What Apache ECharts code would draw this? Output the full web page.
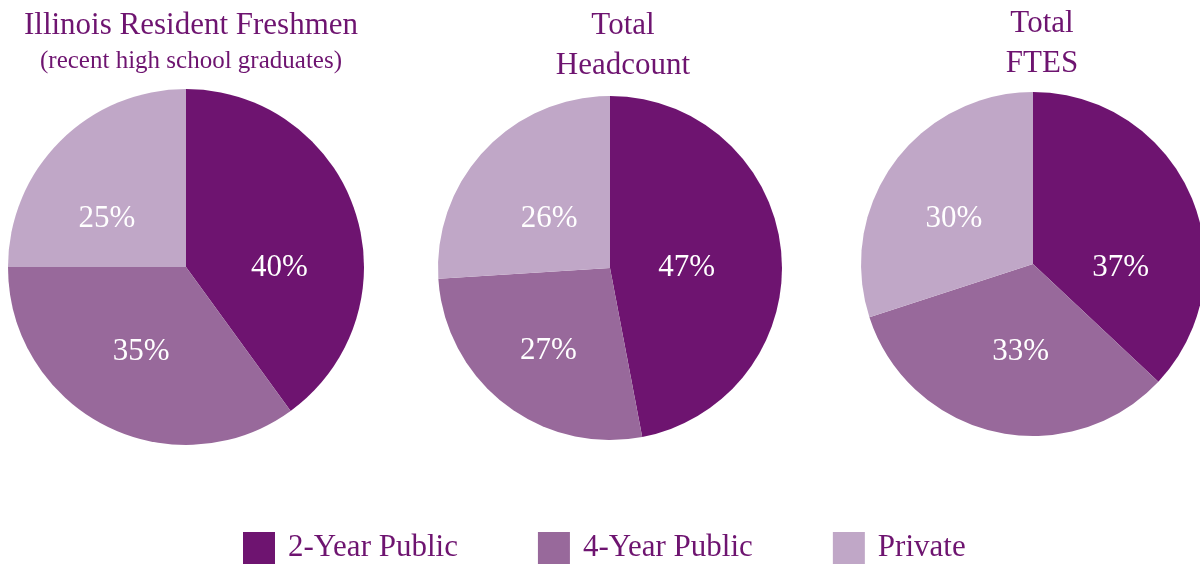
<!DOCTYPE html>
<html>
<head>
<meta charset="UTF-8">
<title>Enrollment by sector</title>
<script src="https://cdn.jsdelivr.net/npm/echarts@6/dist/echarts.min.js"></script>
<style>
  html, body { margin: 0; padding: 0; background: #fff; }
  #main { width: 1200px; height: 564px; }
</style>
</head>
<body>
<div id="main"></div>
<script type="text/javascript">
// sectors and shares (percent)
var sectors = ['2-Year Public', '4-Year Public', 'Private'];
var freshmen = [40, 35, 25];
var headcount = [47, 27, 26];
var ftes = [37, 33, 30];

var colors = ['#6e1470', '#98699b', '#c0a7c7'];
var font = '"Liberation Serif", "DejaVu Serif", serif';

var myChart = echarts.init(document.getElementById('main'));

// small nudges so the labels sit where the original put them
function toData(values, nudges) {
  var out = [];
  for (var i = 0; i < values.length; i++) {
    out.push({ name: sectors[i], value: values[i], label: { offset: nudges[i] } });
  }
  return out;
}

function pieSeries(values, center, radius, nudges) {
  return {
    type: 'pie',
    center: center,
    radius: radius,
    startAngle: 90,
    clockwise: true,
    silent: true,
    label: {
      show: true,
      position: 'inside',
      formatter: '{c}%',
      color: '#fff',
      fontFamily: font,
      fontSize: 31
    },
    labelLine: { show: false },
    itemStyle: { borderWidth: 0 },
    data: toData(values, nudges)
  };
}

var titleStyle = { color: '#6e1470', fontFamily: font, fontSize: 31, fontWeight: 'normal', lineHeight: 40 };

var option = {
  color: colors,
  animation: false,
  title: [
    {
      text: 'Illinois Resident Freshmen',
      subtext: '(recent high school graduates)',
      left: 186, top: 1, textAlign: 'center', itemGap: 3,
      textStyle: titleStyle,
      subtextStyle: { color: '#6e1470', fontFamily: font, fontSize: 25 }
    },
    {
      text: 'Total\nHeadcount',
      left: 618, top: 1, textAlign: 'center',
      textStyle: titleStyle
    },
    {
      text: 'Total\nFTES',
      left: 1037, top: -1, textAlign: 'center',
      textStyle: titleStyle
    }
  ],
  legend: {
    bottom: 0,
    left: 243,
    padding: 0,
    itemWidth: 32,
    itemHeight: 32,
    itemGap: 80,
    icon: 'rect',
    textStyle: { color: '#6e1470', fontFamily: font, fontSize: 31, padding: [0, 0, 0, 8] },
    data: sectors
  },
  series: [
    pieSeries(freshmen, [186, 267], 178, [[6, 29], [-3, 3], [-14, 17]]),
    pieSeries(headcount, [610, 268], 172, [[-12, 8], [-7, 13], [4, 12]]),
    pieSeries(ftes, [1033, 264], 172, [[6, 39], [7, 1], [-7, 7]])
  ]
};

myChart.setOption(option);
</script>
</body>
</html>
